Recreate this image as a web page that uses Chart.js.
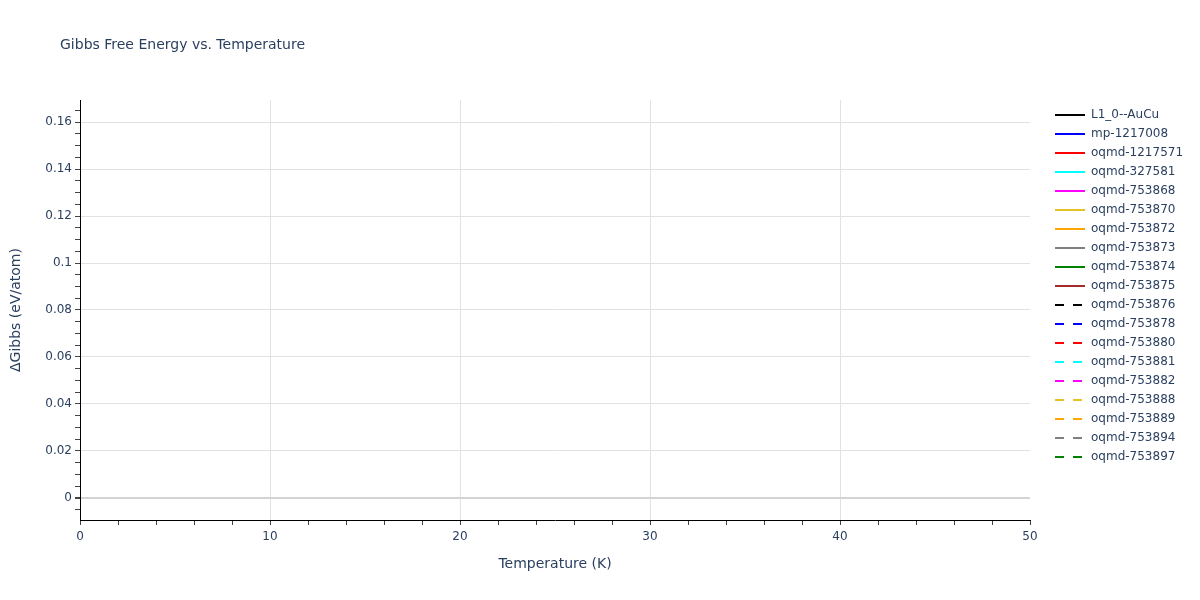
<!DOCTYPE html>
<html>
<head>
<meta charset="utf-8">
<script src="https://cdn.jsdelivr.net/npm/chart.js@4/dist/chart.umd.min.js"></script>
<style>
  html, body { margin: 0; padding: 0; background: #fff; }
  #wrap { width: 1200px; height: 600px; }
</style>
</head>
<body>
<div id="wrap"><canvas id="gibbsChart" width="1200" height="600"></canvas></div>
<script>
// series names, colours and dash flags as in the legend
var seriesNames = ["L1_0--AuCu", "mp-1217008", "oqmd-1217571", "oqmd-327581", "oqmd-753868",
    "oqmd-753870", "oqmd-753872", "oqmd-753873", "oqmd-753874", "oqmd-753875",
    "oqmd-753876", "oqmd-753878", "oqmd-753880", "oqmd-753881", "oqmd-753882",
    "oqmd-753888", "oqmd-753889", "oqmd-753894", "oqmd-753897"];
var seriesColors = ["black", "blue", "red", "cyan", "magenta", "#e6c229", "orange", "gray", "green", "brown",
    "black", "blue", "red", "cyan", "magenta", "#e6c229", "orange", "gray", "green"];
var seriesDashed = [false, false, false, false, false, false, false, false, false, false,
    true, true, true, true, true, true, true, true, true];
// no curve is visible inside 0..50 K, so every series has no points here
var temperatures = [];
var seriesValues = seriesNames.map(function () { return []; });

document.addEventListener("DOMContentLoaded", function () {
    var fontFamily = 'Verdana, "DejaVu Sans", sans-serif';
    Chart.defaults.font.family = fontFamily;
    Chart.defaults.color = "#2a3f5f";

    var datasets = seriesNames.map(function (name, i) {
        return {
            label: name,
            data: temperatures.map(function (t, j) { return { x: t, y: seriesValues[i][j] }; }),
            borderColor: seriesColors[i],
            backgroundColor: seriesColors[i],
            borderWidth: 2,
            borderDash: seriesDashed[i] ? [9, 9] : [],
            pointRadius: 0,
            fill: false
        };
    });

    function isMajor(v, step) {
        return Math.abs(v / step - Math.round(v / step)) < 1e-6;
    }

    var layoutPlugin = {
        id: "plotLayout",
        afterInit: function (chart) {
            // fixed legend column width so the plot ends where the original does
            var lg = chart.legend;
            var fit = lg.fit;
            lg.fit = function () {
                fit.call(this);
                this.width = 170;
            };
        },
        afterLayout: function (chart) {
            // push the legend a bit away from the plot
            var lg = chart.legend;
            lg.left = chart.chartArea.right + 18;
            lg.right = lg.left + lg.width;
            lg.top += 2;
        },
        afterDraw: function (chart) {
            var c = chart.ctx;
            c.save();
            c.font = "14px " + fontFamily;
            c.fillStyle = "#2a3f5f";
            c.textBaseline = "middle";
            c.fillText("Gibbs Free Energy vs. Temperature", 60, 45);
            c.restore();
        }
    };

    var ctx = document.getElementById("gibbsChart").getContext("2d");
    new Chart(ctx, {
        type: "line",
        data: { datasets: datasets },
        plugins: [layoutPlugin],
        options: {
            responsive: false,
            animation: false,
            layout: { padding: { top: 100, right: 0, left: 0, bottom: 0 } },
            scales: {
                x: {
                    type: "linear",
                    min: 0,
                    max: 50,
                    afterFit: function (s) { s.height = 80; },
                    border: { color: "#000", width: 1 },
                    grid: {
                        color: function (c) {
                            var v = c.tick.value;
                            return (v > 0 && v < 50 && isMajor(v, 10)) ? "#e2e2e2" : "rgba(0,0,0,0)";
                        },
                        tickColor: "#444",
                        tickLength: 5
                    },
                    ticks: {
                        stepSize: 2,
                        maxTicksLimit: 1000,
                        autoSkip: false,
                        maxRotation: 0,
                        padding: 5,
                        font: { size: 12 },
                        callback: function (v) { return isMajor(v, 10) ? String(v) : ""; }
                    },
                    title: {
                        display: true,
                        text: "Temperature (K)",
                        font: { size: 14 },
                        padding: { top: 4, bottom: 27 }
                    }
                },
                y: {
                    type: "linear",
                    min: -0.0094,
                    max: 0.1694,
                    afterFit: function (s) { s.width = 80; },
                    border: { color: "#000", width: 1 },
                    grid: {
                        color: function (c) {
                            var v = c.tick.value;
                            if (Math.abs(v) < 1e-9) return "#d3d3d3";
                            return isMajor(v, 0.02) ? "#e2e2e2" : "rgba(0,0,0,0)";
                        },
                        lineWidth: function (c) { return Math.abs(c.tick.value) < 1e-9 ? 2 : 1; },
                        tickColor: "#444",
                        tickLength: 5
                    },
                    ticks: {
                        stepSize: 0.005,
                        includeBounds: false,
                        maxTicksLimit: 1000,
                        autoSkip: false,
                        padding: 3,
                        font: { size: 12 },
                        callback: function (v) {
                            return isMajor(v, 0.02) ? String(parseFloat(v.toFixed(2))) : "";
                        }
                    },
                    title: {
                        display: true,
                        text: "\u0394Gibbs (eV/atom)",
                        font: { size: 14 },
                        padding: { top: 8, bottom: 6 }
                    }
                }
            },
            plugins: {
                title: { display: false },
                tooltip: { enabled: false },
                legend: {
                    position: "right",
                    align: "start",
                    labels: {
                        usePointStyle: true,
                        pointStyle: "line",
                        pointStyleWidth: 30,
                        boxHeight: 12,
                        padding: 7,
                        color: "#2a3f5f",
                        font: { size: 12 },
                        generateLabels: function (chart) {
                            var items = Chart.defaults.plugins.legend.labels.generateLabels(chart);
                            items.forEach(function (it) {
                                var ds = chart.data.datasets[it.datasetIndex];
                                it.strokeStyle = ds.borderColor;
                                it.lineWidth = ds.borderWidth;
                                it.lineDash = ds.borderDash;
                            });
                            return items;
                        }
                    }
                }
            }
        }
    });
});
</script>
</body>
</html>
